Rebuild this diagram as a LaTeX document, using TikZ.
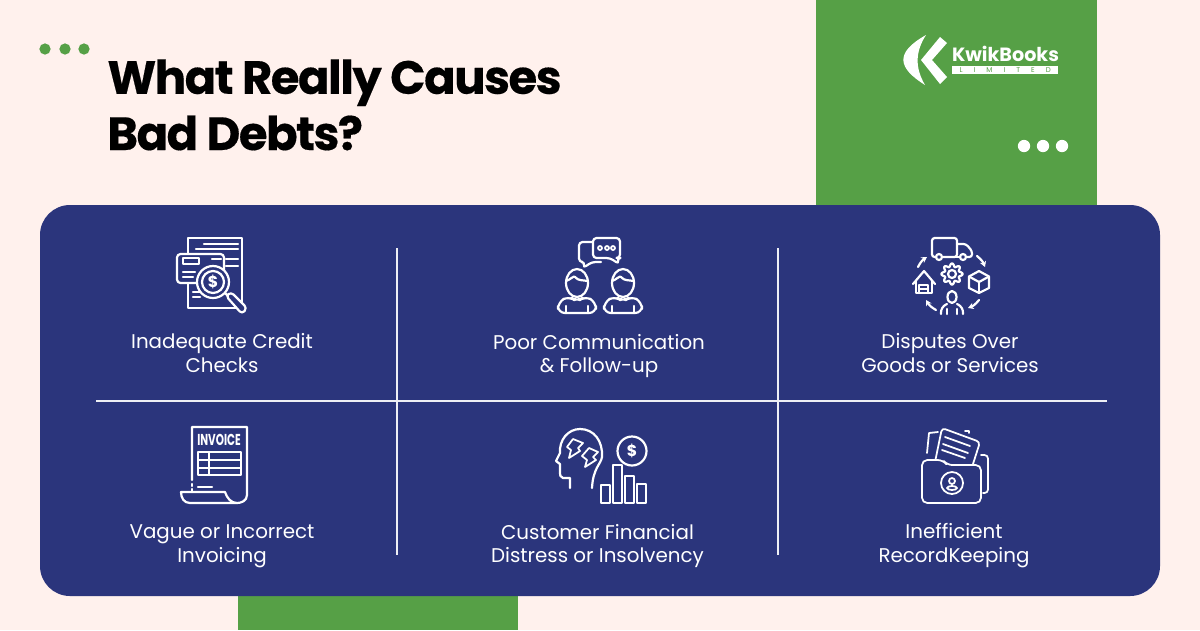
\documentclass[tikz,border=0pt]{standalone}
\usepackage{fontspec}
\setmainfont{Poppins}
\usetikzlibrary{arrows.meta}
\definecolor{pagebg}{RGB}{255,241,237}
\definecolor{leafgreen}{RGB}{86,160,70}
\definecolor{panelblue}{RGB}{43,53,124}

\begin{document}
\begin{tikzpicture}[x=0.02cm,y=-0.02cm,>={Stealth[length=3.2pt,width=3.6pt]},
    iconline/.style ={draw=white, line width=1.25pt, line join=round, line cap=round},
    iconfill/.style ={iconline, fill=panelblue},
    causelabel/.style ={text=white, align=center, font=\fontsize{11.3}{13.6}\selectfont, inner sep=0pt},
    divider/.style ={draw=white!92!panelblue, line width=1.1pt},
    tickdot/.style ={circle, inner sep=0pt, minimum size=6.4pt},
    coinsign/.style ={text=white, font=\bfseries\fontsize{9}{9}\selectfont, inner sep=0pt}]
   \useasboundingbox (0,0) rectangle (1200,630);
   \fill[pagebg] (0,0) rectangle (1200,630);
   \fill[leafgreen] (816,0) rectangle (1097,240);
   \fill[leafgreen] (238,560) rectangle (518,630);
   \fill[panelblue, rounded corners=0.6cm] (40,205) rectangle (1160,596);

   % heading and dots
   \node[anchor=north west, align=left, inner sep=0pt,
      font=\bfseries\fontsize{26.5}{32}\selectfont\addfontfeature{LetterSpace=-3.3,FakeBold=0.35}] (title) at (107,59)
      {What Really Causes\\Bad Debts?};
   \foreach \dx/\dn in {45/a,65/b,84/c}
      \node[tickdot, fill=leafgreen] (green\dn) at (\dx,49) {};
   \foreach \dx/\dn in {1024/a,1043/b,1062/c}
      \node[tickdot, fill=white, minimum size=7pt] (white\dn) at (\dx,146) {};

   % logo
   \fill[white] (926,35) .. controls (894,53) and (898,68) .. (925,85)
      .. controls (915,68) and (915,52) .. (926,35) -- cycle;
   \fill[white] (940,37) -- (947,43) -- (932,60) -- (947,77) -- (940,84) -- (921,60) -- cycle;
   \node[text=white, font=\bfseries\fontsize{10.9}{12}\selectfont, inner sep=0pt] (brand) at (1005.5,54) {KwikBooks};
   \node[fill=white, text=leafgreen, inner sep=0pt, minimum width=106*0.02cm, minimum height=8.6*0.02cm,
      font=\fontsize{4}{4}\selectfont] (brandsub) at (1005.2,70)
      {\makebox[52pt][s]{L\hfill I\hfill M\hfill I\hfill T\hfill E\hfill D}};

   % dividers
   \coordinate (v1top) at (397,248);
   \coordinate (v1bot) at (397,555);
   \coordinate (v2top) at (778,248);
   \coordinate (v2bot) at (778,555);
   \coordinate (hleft) at (96,401);
   \coordinate (hright) at (1107,401);
   \draw[divider] (v1top) to (v1bot);
   \draw[divider] (v2top) to (v2bot);
   \draw[divider] (hleft) to (hright);

   % labels
   \node[causelabel] (credit) at (222,353) {Inadequate Credit\\Checks};
   \node[causelabel] (talk) at (599,356) {Poor Communication\\\& Follow-up};
   \node[causelabel] (dispute) at (950,353) {Disputes Over\\Goods or Services};
   \node[causelabel] (invoicing) at (222,546) {Vague or Incorrect\\Invoicing};
   \node[causelabel] (distress) at (597.5,546) {Customer Financial\\Distress or Insolvency};
   \node[causelabel] (records) at (954,546) {Inefficient\\RecordKeeping};

   % credit check icon
   \draw[iconline] (188,238) rectangle (242,308);
   \draw[iconline] (204,244) -- (238,244);
   \draw[iconline] (196,249) -- (238,249);
   \draw[iconline] (226,259) -- (238,259);
   \draw[iconline] (226,266) -- (238,266);
   \draw[iconline] (193,292) -- (203,292);
   \draw[iconline] (193,297) -- (200,297);
   \draw[iconfill, rounded corners=2pt] (177,254) rectangle (224,283);
   \draw[iconline] (183,258) rectangle (199,264);
   \draw[iconline] (212,259) -- (221,259);
   \draw[iconline] (183,272) -- (195,272);
   \draw[iconline] (183,277) -- (193,277);
   \draw[iconfill] (213,282) circle [radius=16];
   \draw[iconline] (213,282) circle [radius=11];
   \node[coinsign] (creditcoin) at (213,282) {\$};
   \draw[iconline] (225,293) -- (229,297);
   \draw[iconfill, rounded corners=2pt] (226,296) -- (231,292) -- (247,308) -- (242,314) -- cycle;

   % speech and people icon
   \draw[iconline, rounded corners=2pt] (593,242) -- (579,242) -- (579,262) -- (585,262) -- (583,268) -- (592,262) -- (601,262);
   \draw[iconfill, rounded corners=2pt] (593,238) -- (620,238) -- (620,258) -- (617,258) -- (619,264) -- (610,258) -- (593,258) -- cycle;
   \foreach \dx/\dn in {600/a,607/b,613/c}
      \draw[iconline, line width=1pt] (\dx,248) circle [radius=2];
   \foreach \cx in {577,623} {
      \begin{scope}[shift={(\cx,0)}]
         \draw[iconline] (0,283) ellipse [x radius=11, y radius=14];
         \draw[iconline] (-11,281) .. controls (-7,280) and (-3,275) .. (-2,277) .. controls (1,281) and (6,280) .. (11,281);
         \draw[iconline, rounded corners=4pt] (-19,313) -- (-19,302) -- (-8,296) -- (0,302) -- (8,296) -- (19,302) -- (19,313) -- cycle;
         \draw[iconline] (-11,313) -- (-11,306);
         \draw[iconline] (11,313) -- (11,306);
      \end{scope}
   }

   % goods and services icon
   \draw[iconline, rounded corners=1.5pt] (936,257) -- (932,257) -- (932,238) -- (957,238) -- (957,257) -- (943,257);
   \draw[iconline, rounded corners=1.5pt] (957,244) -- (966,244) -- (972,251) -- (972,257) -- (967,257);
   \draw[iconline] (947,257) -- (960,257);
   \draw[iconline] (939,257) circle [radius=3];
   \draw[iconline] (963,257) circle [radius=3];
   \draw[iconline, ->] (918,267) to [bend left = 15] (927,257);
   \draw[iconline, ->] (977,256) to [bend left = 15] (985,267);
   \draw[iconline, ->] (979,300) to [bend left = 15] (968,308);
   \draw[iconline, ->] (936,310) to [bend left = 15] (926,300);
   \draw[iconline] (913,284) -- (924,271) -- (935,284);
   \draw[iconline] (916,281) -- (916,293) -- (932,293) -- (932,281);
   \draw[iconline] (919,293) -- (919,285) -- (928,285) -- (928,293);
   \draw[iconline] (919,289) -- (928,289);
   \draw[iconline] plot[domain=0:360,samples=97,smooth,variable=\t]
      ({952+(9+1.6*cos(8*\t))*cos(\t)},{274+(9+1.6*cos(8*\t))*sin(\t)});
   \draw[iconline] (952,274) circle [radius=4];
   \draw[iconline, line join=round] (979,271) -- (989,276.5) -- (989,288) -- (979,293) -- (969,288) -- (969,276.5) -- cycle;
   \draw[iconline] (969,276.5) -- (979,282) -- (989,276.5);
   \draw[iconline] (979,282) -- (979,293);
   \draw[iconline] (952,297) ellipse [x radius=4.5, y radius=6];
   \draw[iconline, rounded corners=3pt] (941,314) -- (941,307) -- (947,304);
   \draw[iconline, rounded corners=3pt] (963,314) -- (963,307) -- (957,304);
   \draw[iconline] (947,314) -- (947,309);
   \draw[iconline] (957,314) -- (957,309);

   % invoice icon
   \draw[iconline] (192,480) -- (192,427) -- (247,427) -- (247,495)
      .. controls (247,501) and (241,503) .. (237,503) -- (190,503)
      .. controls (184,503) and (181,498) .. (181,492) -- (225,492)
      .. controls (227,498) and (231,503) .. (237,503);
   \draw[iconline] (192,484) -- (192,486);
   \draw[iconline] (192,489) -- (192,492);
   \node[text=white, inner sep=0pt, font=\bfseries\fontsize{9}{9}\selectfont] (invoicetxt) at (219,439.5)
      {\scalebox{0.66}[1]{INVOICE}};
   \draw[iconline, line width=1pt] (198,452) rectangle (241,475);
   \draw[iconline, line width=1pt] (198,460) -- (241,460);
   \draw[iconline, line width=1pt] (198,468) -- (241,468);
   \draw[iconline, line width=1pt] (209,452) -- (209,475);
   \draw[iconline] (198,487) -- (212,487);

   % head and bars icon
   \draw[iconline] (570,488) -- (570,478) -- (563,478) .. controls (560,477) and (560,475) .. (560,473)
      -- (560,464) -- (556,461) -- (560,453) .. controls (559,440) and (568,429) .. (580,429)
      .. controls (594,429) and (603,441) .. (602,457) .. controls (601,464) and (593,468) .. (592,488);
   \draw[iconline, line width=1pt] (573,439) -- (583,443) -- (578,448) -- (580,451) -- (569,458) -- (571,450) -- (567,447) -- cycle;
   \draw[iconline, line width=1pt] (589,448) -- (598,452) -- (593,457) -- (596,460) -- (585,467) -- (587,460) -- (582,456) -- cycle;
   \draw[iconline] (632,451) circle [radius=14.5];
   \node[coinsign] (distresscoin) at (632,451) {\$};
   \foreach \bx/\btop in {601/485,613/465,625/476,637/484}
      \draw[iconline] (\bx,\btop) rectangle (\bx+9,503);

   % folder icon
   \draw[iconline, line width=1pt, rounded corners=2pt] (981,455) -- (988,455) -- (988,493) -- (983,493);
   \draw[iconline, line width=1pt] (927,453) -- (929,433) -- (938,432);
   \draw[iconfill, line width=1pt, rounded corners=2pt] (935,462) -- (942,428) -- (980,442) -- (973,464);
   \draw[iconline, line width=1pt] (965,431) -- (969,431) -- (969,433);
   \draw[iconline, line width=1pt] (945,437) -- (970,446);
   \draw[iconline, line width=1pt] (943,444) -- (968,453);
   \draw[iconline, line width=1pt] (942,450) -- (965,458);
   \draw[iconfill, line width=1pt, rounded corners=3pt] (922,460) -- (943,460) -- (947,465) -- (981,465) -- (981,503) -- (922,503) -- cycle;
   \draw[iconline, line width=1pt] (952,483) circle [radius=11];
   \draw[iconline, line width=1pt] (952,481) circle [radius=3];
   \draw[iconline, line width=1pt] (952,488) ellipse [x radius=5, y radius=2];
\end{tikzpicture}
\end{document}
